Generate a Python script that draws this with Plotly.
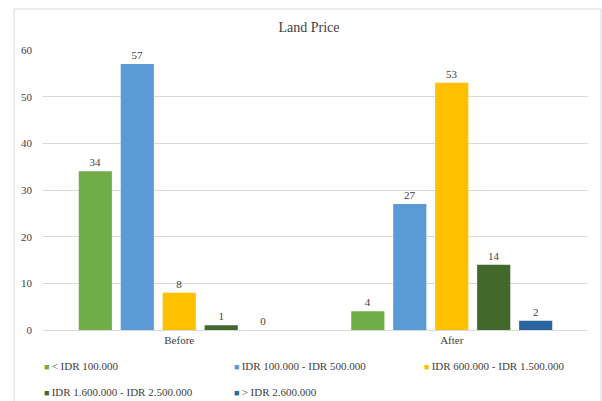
import plotly.graph_objects as go

categories = ["Before", "After"]
series_names = ["< IDR 100.000", "IDR 100.000 - IDR 500.000", "IDR 600.000 - IDR 1.500.000",
                "IDR 1.600.000 - IDR 2.500.000", "> IDR 2.600.000"]
values = [
    [34, 4],
    [57, 27],
    [8, 53],
    [1, 14],
    [0, 2],
]
colors = ["#70AD47", "#5B9BD5", "#FFC000", "#43682B", "#2B65A0"]

W, H = 602, 401
L, R, T, B = 43, 14, 50, 71
pw = W - L - R
ph = H - T - B

def esc(s):
    return s.replace("<", "&lt;").replace(">", "&gt;")

def px_x(p):
    return (p - L) / pw

def px_y(p):
    return (H - B - p) / ph

fig = go.Figure()
for name, vals, col in zip(series_names, values, colors):
    fig.add_trace(go.Bar(
        x=categories, y=vals, name=name, marker=dict(color=col, line=dict(width=0)),
        text=[str(v) for v in vals], textposition="outside", cliponaxis=False,
        textfont=dict(family="Liberation Serif", size=11, color="#404040"),
        showlegend=False,
    ))
# legend proxies: coloured square glyph directly before the label
for i, (name, col) in enumerate(zip(series_names, colors)):
    fig.add_trace(go.Scatter(
        x=[None], y=[None], mode="markers",
        marker=dict(size=1, color="rgba(0,0,0,0)", opacity=0),
        name=f"<span style='color:{col};font-size:9px'>■</span>\u2009{esc(name)}",
        showlegend=True, hoverinfo="skip",
        legend="legend" if i < 3 else "legend2",
    ))

leg_common = dict(orientation="h", xref="paper", x=px_x(4), xanchor="left",
                  yref="paper", yanchor="top",
                  entrywidth=145, entrywidthmode="pixels", traceorder="normal",
                  font=dict(family="Liberation Serif", size=11, color="#404040"),
                  itemwidth=30, tracegroupgap=0, bgcolor="rgba(0,0,0,0)")

fig.update_layout(
    width=W, height=H,
    margin=dict(l=L, r=R, t=T, b=B, autoexpand=False),
    paper_bgcolor="white", plot_bgcolor="white",
    barmode="group", bargap=0.23, bargroupgap=0.21,
    font=dict(family="Liberation Serif", size=11, color="#404040"),
    title=dict(text="Land Price", x=px_x(309), xref="paper", xanchor="center",
               y=1 - 27 / H, yanchor="middle",
               font=dict(family="Liberation Serif", size=14, color="#404040")),
    yaxis=dict(range=[0, 60], dtick=10, showgrid=True, gridcolor="#D9D9D9", gridwidth=1,
               zeroline=False, showline=False, ticks="", ticklabelstandoff=10,
               tickfont=dict(family="Liberation Serif", size=11, color="#404040")),
    xaxis=dict(showline=True, linecolor="#D9D9D9", linewidth=1, ticks="",
               tickfont=dict(family="Liberation Serif", size=11, color="#404040")),
    legend=dict(y=px_y(351), **leg_common),
    legend2=dict(y=px_y(377), **leg_common),
    shapes=[dict(type="rect", xref="paper", yref="paper",
                 x0=px_x(14), x1=px_x(601), y0=px_y(420), y1=px_y(9),
                 line=dict(color="#D9D9D9", width=1), fillcolor="rgba(0,0,0,0)", layer="below")],
)

fig.write_html("out.html")
